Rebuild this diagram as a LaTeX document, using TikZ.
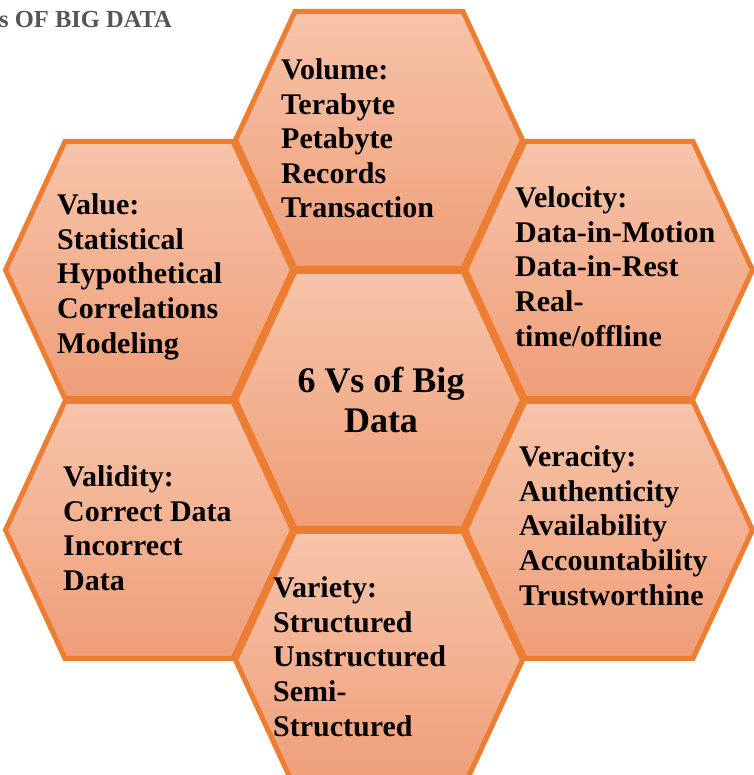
\documentclass[tikz,border=0pt]{standalone}
\usepackage{fontspec}
\setmainfont{Liberation Serif}
\definecolor{hexborder}{RGB}{237,125,49}
\definecolor{hextop}{RGB}{247,196,170}
\definecolor{hexbot}{RGB}{239,158,120}
\definecolor{titlegray}{RGB}{85,85,85}
\tikzset{
  hexfill/.style={top color=hextop, bottom color=hexbot, draw=none},
  hexline/.style={draw=hexborder, line width=5pt, line join=miter},
  hextext/.style={anchor=north west, align=left, inner sep=0pt, text=black,
    font=\fontsize{30}{34.6}\selectfont\bfseries},
}
\def\ha{143.5}
\def\hc{84}
\def\hb{128.5}
\begin{document}
\begin{tikzpicture}[x=1pt,y=1pt]
\useasboundingbox (0,0) rectangle (753,775);
\foreach \cx/\cy in {379/635, 149/505, 609/505, 379/375, 149/245, 609/245, 379/115} {
  \path[hexfill] ({\cx-\ha},\cy) -- ({\cx-\hc},{\cy+\hb}) -- ({\cx+\hc},{\cy+\hb})
     -- ({\cx+\ha},\cy) -- ({\cx+\hc},{\cy-\hb}) -- ({\cx-\hc},{\cy-\hb}) -- cycle;
}
\foreach \cx/\cy in {379/635, 149/505, 609/505, 379/375, 149/245, 609/245, 379/115} {
  \path[hexline] ({\cx-\ha},\cy) -- ({\cx-\hc},{\cy+\hb}) -- ({\cx+\hc},{\cy+\hb})
     -- ({\cx+\ha},\cy) -- ({\cx+\hc},{\cy-\hb}) -- ({\cx-\hc},{\cy-\hb}) -- cycle;
}
\node[anchor=base west, inner sep=0pt, text=titlegray,
  font=\fontsize{24.5}{28}\selectfont\bfseries] (title) at (-1,747) {s OF BIG DATA};
\node[hextext] (vol) at (281,716.5) {Volume:\\Terabyte\\Petabyte\\Records\\Transaction};
\node[hextext] (val) at (57,581.3) {Value:\\Statistical\\Hypothetical\\Correlations\\Modeling};
\node[hextext] (vel) at (515,588.3) {Velocity:\\Data-in-Motion\\Data-in-Rest\\Real-\\time/offline};
\node[anchor=north, align=center, inner sep=0pt,
  font=\fontsize{36}{40.5}\selectfont\bfseries] (ctr) at (381,408.5) {6 Vs of Big\\Data};
\node[hextext] (vld) at (63,309.3) {Validity:\\Correct Data\\Incorrect\\Data};
\node[hextext] (ver) at (519,329.3) {Veracity:\\Authenticity\\Availability\\Accountability\\Trustworthine};
\node[hextext] (var) at (273,198.3) {Variety:\\Structured\\Unstructured\\Semi-\\Structured};
\end{tikzpicture}
\end{document}
